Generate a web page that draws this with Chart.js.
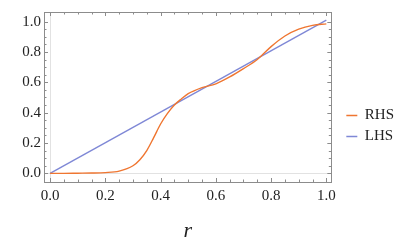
<!DOCTYPE html>
<html>
<head>
<meta charset="utf-8">
<script src="https://cdn.jsdelivr.net/npm/chart.js@4"></script>
<style>
  html, body { margin: 0; padding: 0; background: #fff; }
  #wrap { width: 399px; height: 251px; }
</style>
</head>
<body>
<div id="wrap"><canvas id="c"></canvas></div>
<script>
const C = {
  rhs:   "#ef7631",
  lhs:   "#7f88d6",
  frame: "#8c8c8c",
  axis:  "#e2e2e2",
  text:  "#222",
};

const FONT = "'Liberation Serif', 'Times New Roman', serif";

// RHS curve
const rhsX = [0, 0.05, 0.1, 0.15, 0.2, 0.25, 0.3, 0.325, 0.35, 0.375, 0.4, 0.425, 0.45, 0.475, 0.5,
              0.55, 0.6, 0.65, 0.7, 0.75, 0.8, 0.85, 0.9, 0.95, 1.0];
const rhsY = [0, 0, 0.001, 0.002, 0.005, 0.015, 0.05, 0.09, 0.15, 0.235, 0.325, 0.395, 0.45, 0.49, 0.525,
              0.565, 0.59, 0.635, 0.69, 0.75, 0.835, 0.905, 0.95, 0.975, 0.985];

// LHS is a straight line
const lhsX = [0, 1.0];
const lhsY = [0, 1.01];

const xTicks = [0, 0.2, 0.4, 0.6, 0.8, 1.0];
const yTicks = [0, 0.2, 0.4, 0.6, 0.8, 1.0];

const pts = (xs, ys) => xs.map((x, i) => ({ x, y: ys[i] }));

// Mathematica-ish frame: box, inward ticks on every side, faint axes through 0
const framePlugin = {
  id: "frame",
  afterLayout(chart) {
    // nudge the legend to where the original has it
    const lg = chart.legend;
    lg.left += 9; lg.right += 9;
    lg.top -= 2; lg.bottom -= 2;
  },
  beforeDatasetsDraw(chart) {
    const { ctx, chartArea: a, scales: { x, y } } = chart;
    ctx.save();
    ctx.lineWidth = 1;
    // faint axes
    ctx.strokeStyle = C.axis;
    ctx.beginPath();
    const x0 = Math.round(x.getPixelForValue(0)) + 0.5;
    const y0 = Math.round(y.getPixelForValue(0)) + 0.5;
    ctx.moveTo(x0, a.top); ctx.lineTo(x0, a.bottom);
    ctx.moveTo(a.left, y0); ctx.lineTo(a.right, y0);
    ctx.stroke();
    // frame
    ctx.strokeStyle = C.frame;
    ctx.strokeRect(Math.round(a.left) + 0.5, Math.round(a.top) + 0.5,
                   Math.round(a.right - a.left), Math.round(a.bottom - a.top));
    // ticks
    ctx.beginPath();
    for (let i = 0; i <= 20; i++) {
      const v = i * 0.05;
      const len = i % 4 === 0 ? 4 : 2.5;
      const px = Math.round(x.getPixelForValue(v)) + 0.5;
      ctx.moveTo(px, a.bottom); ctx.lineTo(px, a.bottom - len);
      ctx.moveTo(px, a.top); ctx.lineTo(px, a.top + len);
      const py = Math.round(y.getPixelForValue(v)) + 0.5;
      ctx.moveTo(a.left, py); ctx.lineTo(a.left + len, py);
      ctx.moveTo(a.right, py); ctx.lineTo(a.right - len, py);
    }
    ctx.stroke();
    ctx.restore();
  },
};

new Chart(document.getElementById("c"), {
  type: "line",
  data: {
    datasets: [
      {
        label: "RHS",
        data: pts(rhsX, rhsY),
        borderColor: C.rhs,
        backgroundColor: C.rhs,
        borderWidth: 1.4,
        pointRadius: 0,
        cubicInterpolationMode: "monotone",
      },
      {
        label: "LHS",
        data: pts(lhsX, lhsY),
        borderColor: C.lhs,
        backgroundColor: C.lhs,
        borderWidth: 1.4,
        pointRadius: 0,
      },
    ],
  },
  options: {
    responsive: true,
    maintainAspectRatio: false,
    animation: false,
    layout: { padding: { left: 0, right: 4, top: 5, bottom: 0 } },
    plugins: {
      tooltip: { enabled: false },
      legend: {
        display: true,
        position: "right",
        maxWidth: 67,
        labels: {
          usePointStyle: true,
          pointStyle: "line",
          pointStyleWidth: 11,
          boxHeight: 8,
          padding: 6,
          color: C.text,
          font: { family: FONT, size: 15 },
        },
      },
    },
    scales: {
      x: {
        type: "linear",
        min: -0.022,
        max: 1.018,
        afterBuildTicks: s => { s.ticks = xTicks.map(v => ({ value: v })); },
        afterFit: s => { s.height = 69; },
        ticks: {
          color: C.text,
          padding: 5,
          font: { family: FONT, size: 15 },
          callback: v => v.toFixed(1),
        },
        grid: { display: false, drawTicks: false },
        border: { display: false },
        title: {
          display: true,
          text: "r",
          color: C.text,
          padding: { top: 0, bottom: 7 },
          font: { family: FONT, size: 22, style: "italic" },
        },
      },
      y: {
        type: "linear",
        min: -0.057,
        max: 1.063,
        afterBuildTicks: s => { s.ticks = yTicks.map(v => ({ value: v })); },
        afterFit: s => { s.width = 44; },
        ticks: {
          color: C.text,
          padding: 3,
          font: { family: FONT, size: 15 },
          callback: v => v.toFixed(1),
        },
        grid: { display: false, drawTicks: false },
        border: { display: false },
      },
    },
  },
  plugins: [framePlugin],
});
</script>
</body>
</html>
